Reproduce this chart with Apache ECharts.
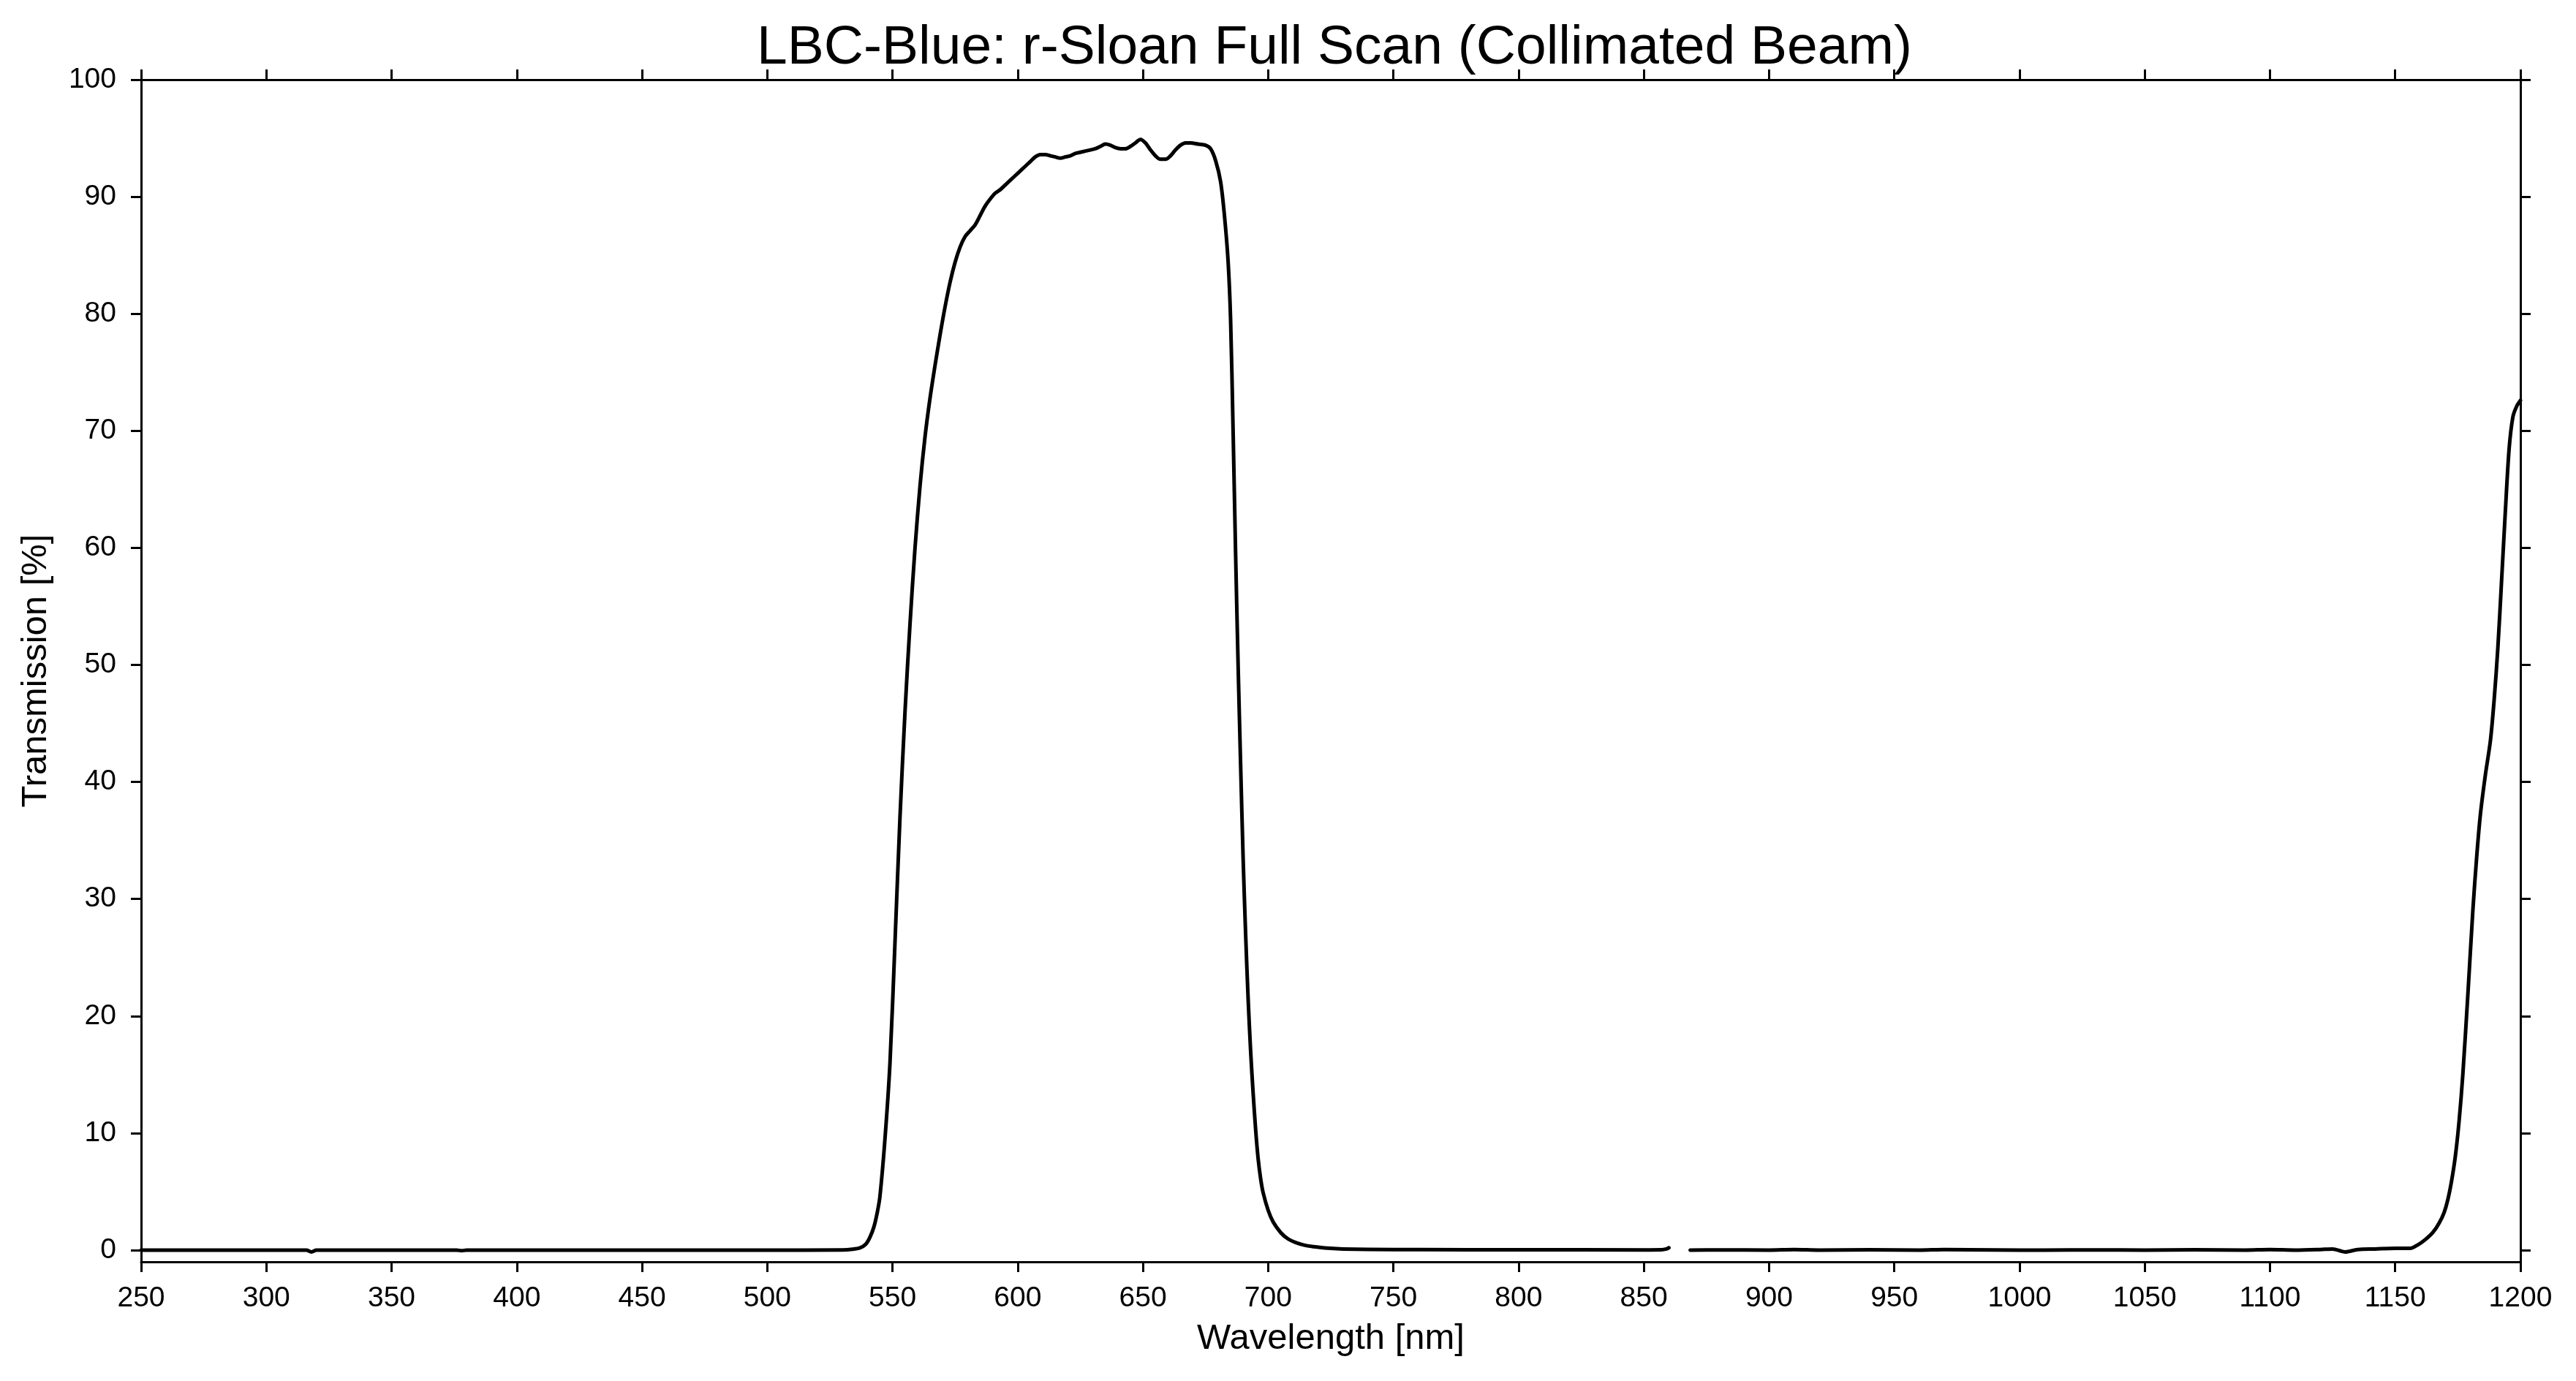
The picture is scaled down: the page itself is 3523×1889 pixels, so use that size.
<!DOCTYPE html>
<html>
<head>
<meta charset="utf-8">
<title>LBC-Blue r-Sloan</title>
<script src="https://cdn.jsdelivr.net/npm/echarts@6/dist/echarts.min.js"></script>
<style>
  html, body { margin: 0; padding: 0; background: #fff; }
  #chart { width: 3523px; height: 1889px; }
</style>
</head>
<body>
<div id="chart"></div>
<script>
// filter scan (nm, %)
// null marks the gap in the scan near 860-868 nm
const wavelength = [
  250, 280, 310, 316, 318, 320, 376, 378, 380, 450, 500, 530, 534, 537, 539.3, 541, 542.6, 544, 545,
  547, 549, 551, 553, 555, 557, 559, 561, 563, 565, 567, 569, 571, 573, 575, 577, 579, 581, 583, 585,
  587, 589, 591, 593, 595, 597, 599, 601, 603, 605, 607, 609, 611, 613, 615, 617, 619, 621, 623, 625,
  627, 629, 631, 633, 635, 637, 639, 641, 643, 645, 647, 649, 651, 653, 655, 657, 659, 661, 663, 665,
  667, 669, 672, 675, 677, 679, 681, 682.5, 684, 685, 686, 687, 688, 689, 690, 691, 692, 693, 694, 695,
  696, 697, 698, 700, 702, 705, 708, 711, 715, 720, 725, 730, 740, 760, 800, 850, 857, 859, 860,
  864,
  868.5, 880, 900, 910, 920, 940, 960, 970, 990, 1010, 1030, 1050, 1070, 1090, 1100, 1110, 1120, 1125,
  1130, 1135, 1142, 1150, 1156, 1159, 1162, 1165, 1167.5, 1169.5, 1171, 1172.5, 1174, 1175.5, 1177,
  1179, 1181, 1182.5, 1184, 1186, 1188, 1189.5, 1191, 1192.5, 1194, 1195.5, 1197, 1198.5, 1200
];
const transmission = [
  0, 0, 0, 0, -0.15, 0, 0, -0.05, 0, 0, 0, 0.02, 0.08, 0.2, 0.5, 1.1, 2.0, 3.3, 4.6,
  9.5, 16.0, 26.3, 37.0, 46.0, 53.5, 60.0, 65.3, 69.5, 72.8, 75.6, 78.2, 80.6, 82.7, 84.4, 85.7, 86.6, 87.1, 87.6, 88.4,
  89.2, 89.8, 90.3, 90.6, 91.0, 91.4, 91.8, 92.2, 92.6, 93.0, 93.4, 93.6, 93.6, 93.5, 93.4, 93.3, 93.4, 93.5, 93.7, 93.8,
  93.9, 94.0, 94.1, 94.3, 94.5, 94.4, 94.2, 94.1, 94.1, 94.3, 94.6, 94.9, 94.6, 94.0, 93.5, 93.2, 93.2, 93.5, 94.0, 94.4,
  94.6, 94.6, 94.5, 94.4, 94.1, 93.1, 91.3, 88.5, 84.5, 79.5, 70.0, 59.5, 50.0, 41.5, 33.5, 27.0, 21.5, 17.0, 13.4, 10.3,
  7.8, 6.1, 4.9, 3.4, 2.4, 1.5, 0.95, 0.65, 0.4, 0.25, 0.15, 0.1, 0.06, 0.04, 0.03, 0.02, 0.03, 0.1, 0.2,
  null,
  0, 0.02, 0, 0.05, 0, 0.03, 0, 0.05, 0.02, 0, 0.02, 0, 0.03, 0, 0.05, 0, 0.05, 0.1,
  -0.15, 0.05, 0.1, 0.15, 0.15, 0.45, 0.9, 1.5, 2.3, 3.2, 4.3, 5.9, 8.0, 11.0, 15.0,
  21.8, 29.0, 33.5, 37.2, 40.6, 43.5, 47.0, 51.5, 57.3, 63.2, 68.5, 71.2, 72.1, 72.6
];
const yTicks = [0, 10, 20, 30, 40, 50, 60, 70, 80, 90, 100];

const font = "'Liberation Sans', Arial, Helvetica, sans-serif";
const ink = "#000";

let myChart = echarts.init(document.getElementById("chart"));

let seriesData = wavelength.map((w, i) => [w, transmission[i]]);

let axisLine = { show: true, onZero: false, lineStyle: { color: ink, width: 3 } };
let axisTick = { show: true, inside: false, length: 14, lineStyle: { color: ink, width: 3 } };

let option = {
  backgroundColor: "#fff",
  animation: false,
  title: {
    text: "LBC-Blue: r-Sloan Full Scan (Collimated Beam)",
    left: 1820,
    top: 24,
    textAlign: "center",
    textStyle: { fontFamily: font, fontSize: 75, fontWeight: "normal", color: ink },
  },
  grid: { left: 193, right: 76, top: 109, bottom: 163 },
  xAxis: [
    {
      type: "value",
      position: "bottom",
      min: 250,
      max: 1200,
      interval: 50,
      name: "Wavelength [nm]",
      nameLocation: "middle",
      nameGap: 81,
      nameTextStyle: { fontFamily: font, fontSize: 49, color: ink },
      axisLine: axisLine,
      axisTick: axisTick,
      axisLabel: {
        fontFamily: font,
        fontSize: 39,
        color: ink,
        margin: 31,
        formatter: (v) => String(v),
      },
      splitLine: { show: false },
    },
    {
      type: "value",
      position: "top",
      min: 250,
      max: 1200,
      interval: 50,
      axisLine: axisLine,
      axisTick: axisTick,
      axisLabel: { show: false },
      splitLine: { show: false },
    },
  ],
  yAxis: [
    {
      type: "value",
      position: "left",
      min: -1,
      max: 100,
      name: "Transmission [%]",
      nameLocation: "middle",
      nameGap: 119,
      nameTextStyle: { fontFamily: font, fontSize: 49, color: ink },
      axisLine: axisLine,
      axisTick: Object.assign({}, axisTick, { customValues: yTicks }),
      axisLabel: { fontFamily: font, fontSize: 39, color: ink, margin: 34, customValues: yTicks },
      splitLine: { show: false },
    },
    {
      type: "value",
      position: "right",
      min: -1,
      max: 100,
      axisLine: axisLine,
      axisTick: Object.assign({}, axisTick, { customValues: yTicks }),
      axisLabel: { show: false },
      splitLine: { show: false },
    },
  ],
  series: [
    {
      name: "r-Sloan",
      type: "line",
      xAxisIndex: 0,
      yAxisIndex: 0,
      data: seriesData,
      showSymbol: false,
      symbol: "none",
      smooth: 0.3,
      connectNulls: false,
      lineStyle: { color: ink, width: 5, join: "round", cap: "round" },
    },
  ],
};
myChart.setOption(option);
</script>
</body>
</html>
